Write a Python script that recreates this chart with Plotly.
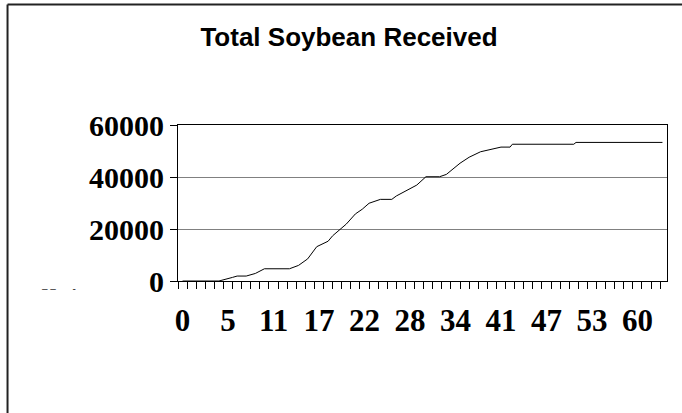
import plotly.graph_objects as go

# Record number (4 records per category tick interval) and cumulative total received
record = [0, 16, 22, 24, 28, 32, 36, 47, 51, 55, 59, 64, 66, 72, 76, 79, 82, 87, 92, 94,
          103, 107, 113, 116, 122, 126, 131, 140, 144, 145, 172, 173, 211]
total_received = [0, 0, 1400, 1900, 1900, 2900, 4700, 4700, 6000, 8500, 13200, 15300, 17400,
                  21900, 25800, 27600, 29900, 31400, 31400, 32700, 36900, 40100, 40100, 41000,
                  45300, 47600, 49700, 51500, 51500, 52600, 52600, 53300, 53300]

# Category tick labels (shown every 5th category)
tick_records = [0, 20, 40, 60, 80, 100, 120, 140, 160, 180, 200]
tick_labels = ["0", "5", "11", "17", "22", "28", "34", "41", "47", "53", "60"]
y_ticks = [0, 20000, 40000, 60000]

fig = go.Figure()
fig.add_trace(go.Scatter(x=record, y=total_received, mode="lines",
                         line=dict(color="black", width=1), showlegend=False,
                         hoverinfo="x+y"))

serif = "Liberation Serif, Times New Roman, serif"

fig.update_layout(
    width=682, height=413,
    margin=dict(l=178, r=15, t=125, b=132),
    paper_bgcolor="white", plot_bgcolor="white",
    title=dict(text="<b>Total Soybean Received</b>", x=349 / 682, xanchor="center",
               y=1 - 37 / 413, yanchor="middle",
               font=dict(family="Liberation Sans, Arial, sans-serif", size=26, color="black")),
    xaxis=dict(range=[-2, 213], tickmode="array", tickvals=tick_records, ticktext=tick_labels,
               ticks="", showgrid=False, zeroline=False,
               showline=True, linecolor="black", linewidth=1, mirror=True,
               tickfont=dict(family=serif, size=31, color="black", weight="bold"),
               ticklabelstandoff=12,
               minor=dict(tickmode="linear", tick0=-2, dtick=4, ticks="outside",
                          ticklen=7, tickcolor="black", tickwidth=1, showgrid=False)),
    yaxis=dict(range=[0, 60000], tickmode="array", tickvals=y_ticks,
               ticktext=[str(v) for v in y_ticks],
               ticks="outside", ticklen=7, tickcolor="black", tickwidth=1,
               showgrid=True, gridcolor="#808080", gridwidth=1, zeroline=False,
               showline=True, linecolor="black", linewidth=1, mirror=True,
               tickfont=dict(family=serif, size=30, color="black", weight="bold"),
               ticklabelstandoff=0),
    shapes=[
        dict(type="line", xref="paper", yref="paper", x0=-0.3486, x1=1.1, y0=1.772, y1=1.772,
             line=dict(color="#222222", width=2)),
        dict(type="line", xref="paper", yref="paper", x0=-0.3486, x1=-0.3486, y0=1.772, y1=-1.0,
             line=dict(color="#222222", width=2)),
    ],
    annotations=[
        dict(text="\u2013 \u2013      -", xref="paper", yref="paper",
             x=(40 - 178) / 489, y=(281 - 288) / 156, xanchor="left", yanchor="middle",
             showarrow=False, font=dict(family="Liberation Sans, Arial", size=10, color="#333333")),
    ],
)

fig.write_html("out.html", config={"displayModeBar": False},
               post_script="document.body.style.margin='0';document.body.style.padding='0';")
